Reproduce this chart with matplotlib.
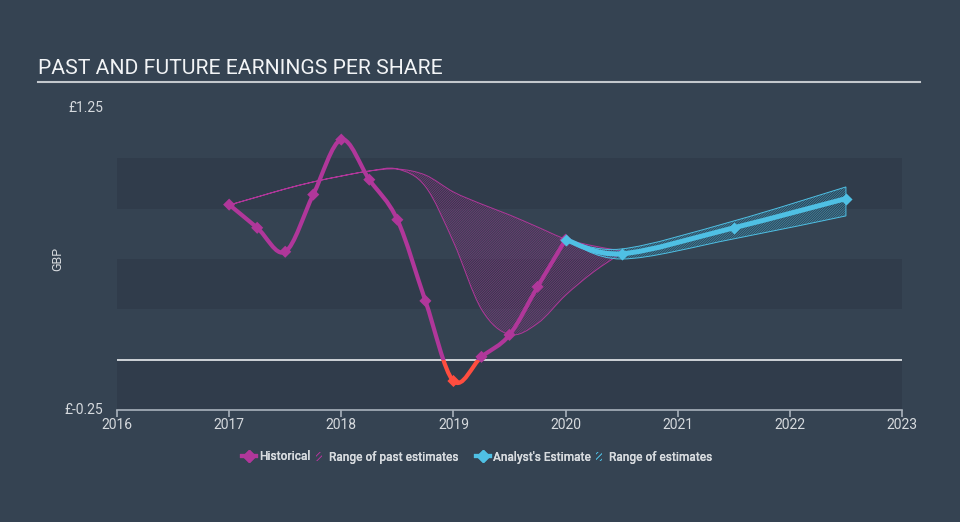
"""Past and future earnings per share chart."""

import matplotlib
matplotlib.use('Agg')
import matplotlib.pyplot as plt
from matplotlib.path import Path
from matplotlib.patches import PathPatch, Patch, Rectangle
from matplotlib.lines import Line2D
from matplotlib.legend_handler import HandlerPatch
import numpy as np

# datos
hist_years = [2017.0, 2017.25, 2017.5, 2017.75, 2018.0, 2018.25, 2018.5,
              2018.75, 2019.0, 2019.25, 2019.5, 2019.75, 2020.0]
hist_eps = [0.77, 0.655, 0.536, 0.82, 1.093, 0.894, 0.695,
            0.292, -0.106, 0.014, 0.123, 0.362, 0.596]

past_years = [2017.0, 2017.25, 2017.5, 2017.75, 2018.0, 2018.25, 2018.5,
              2018.75, 2019.0, 2019.25, 2019.5, 2019.75, 2020.0, 2020.25, 2020.5]
past_high = [0.768, 0.808, 0.848, 0.883, 0.912, 0.937, 0.947,
             0.917, 0.833, 0.773, 0.719, 0.659, 0.599, 0.565, 0.54]
past_low = [0.768, 0.808, 0.848, 0.883, 0.912, 0.937, 0.947,
            0.86, 0.585, 0.25, 0.125, 0.18, 0.32, 0.436, 0.53]

est_years = [2020.0, 2020.5, 2021.5, 2022.5]
est_eps = [0.596, 0.526, 0.655, 0.80]
est_high = [0.596, 0.55, 0.689, 0.858]
est_low = [0.596, 0.50, 0.60, 0.714]

x_ticks = [2016, 2017, 2018, 2019, 2020, 2021, 2022, 2023]

BG = '#354352'
BAND = '#303c4b'
PURPLE = '#b0379a'
PURPLE_H = '#7d3579'
RED = '#ff4d3f'
CYAN = '#4fc0e4'
CYAN_H = '#3a8fb0'
TXT = '#d6dade'
HATCH = '/' * 14


def smooth_verts(xs, ys):
    """Curva Catmull-Rom como vertices y codigos de bezier cubico."""
    pts = np.column_stack([xs, ys])
    n = len(pts)
    verts = [pts[0]]
    codes = [Path.MOVETO]
    for i in range(n - 1):
        p0 = pts[max(i - 1, 0)]
        p1 = pts[i]
        p2 = pts[i + 1]
        p3 = pts[min(i + 2, n - 1)]
        c1 = p1 + (p2 - p0) / 6
        c2 = p2 - (p3 - p1) / 6
        verts += [c1, c2, p2]
        codes += [Path.CURVE4] * 3
    return verts, codes


def band_path(xs, lo, hi):
    v1, c1 = smooth_verts(xs, hi)
    v2, c2 = smooth_verts(xs[::-1], lo[::-1])
    c2[0] = Path.LINETO
    verts = v1 + v2 + [v1[0]]
    codes = c1 + c2 + [Path.CLOSEPOLY]
    return Path(verts, codes)


def add_band(ax, path, line_color, hatch_color):
    ax.add_patch(PathPatch(path, facecolor='none', edgecolor=hatch_color,
                           hatch=HATCH, lw=0, zorder=2))
    ax.add_patch(PathPatch(path, facecolor='none', edgecolor=line_color,
                           lw=0.7, zorder=2))


def narrow_patch(legend, orig_handle, xdescent, ydescent, width, height,
                 fontsize):
    return Rectangle((width * 0.3 - xdescent, -ydescent), width * 0.4,
                     height)


plt.rcParams['font.family'] = ['Roboto', 'DejaVu Sans']
plt.rcParams['hatch.linewidth'] = 0.5

fig = plt.figure(figsize=(9.6, 5.22), dpi=100, facecolor=BG)
ax = fig.add_axes([117 / 960, 112 / 522, 785 / 960, 302 / 522])
ax.set_facecolor(BG)
ax.set_xlim(2016, 2023)
ax.set_ylim(-0.25, 1.25)

# bandas de fondo
for lo, hi in [(-0.25, 0.0), (0.25, 0.5), (0.75, 1.0)]:
    ax.axhspan(lo, hi, color=BAND, lw=0, zorder=0)
ax.axhline(0, color='#e8ecef', lw=1.2, zorder=1)

# rangos de estimaciones
add_band(ax, band_path(past_years, past_low, past_high), PURPLE, PURPLE_H)
add_band(ax, band_path(est_years, est_low, est_high), CYAN, CYAN_H)

# historico, rojo por debajo de cero
hv, hc = smooth_verts(hist_years, hist_eps)
hpath = Path(hv, hc)
for color, clip_y, clip_h in [(PURPLE, 0, 2), (RED, -1, 1)]:
    patch = PathPatch(hpath, facecolor='none', edgecolor=color, lw=3.0,
                      capstyle='round', joinstyle='round', zorder=3)
    ax.add_patch(patch)
    patch.set_clip_path(Rectangle((2015, clip_y), 9, clip_h,
                                  transform=ax.transData))
hist_colors = [RED if v < 0 else PURPLE for v in hist_eps]
ax.scatter(hist_years, hist_eps, marker='D', s=38, c=hist_colors,
           lw=0, zorder=4)

# estimacion de analistas
ev, ec = smooth_verts(est_years, est_eps)
ax.add_patch(PathPatch(Path(ev, ec), facecolor='none', edgecolor=CYAN,
                       lw=3.6, capstyle='round', zorder=3))
ax.scatter(est_years, est_eps, marker='D', s=38, c=CYAN, lw=0, zorder=4)

# ejes
for side in ['left', 'right', 'top']:
    ax.spines[side].set_visible(False)
ax.spines['bottom'].set_color('#a9b2bc')
ax.spines['bottom'].set_linewidth(1.2)
ax.set_xticks(x_ticks)
ax.set_xticklabels([str(t) for t in x_ticks])
ax.tick_params(axis='x', colors='#a9b2bc', labelcolor=TXT, length=5,
               width=1.2, labelsize=10, pad=1)
ax.set_yticks([])
ax.text(-0.018, 1.25, '£1.25', transform=ax.get_yaxis_transform(),
        ha='right', va='center', color=TXT, fontsize=10)
ax.text(-0.018, -0.25, '£-0.25', transform=ax.get_yaxis_transform(),
        ha='right', va='center', color=TXT, fontsize=10)
ax.set_ylabel('GBP', color=TXT, fontsize=9, labelpad=38)

# titulo
fig.text(38 / 960, 1 - 68 / 522, 'PAST AND FUTURE EARNINGS PER SHARE',
         color='#f2f4f6', fontsize=15.2, va='center', ha='left')
fig.add_artist(Line2D([38 / 960, 920 / 960], [1 - 82 / 522, 1 - 82 / 522],
                      color='#c3c8cd', lw=1.5))

# leyenda, en dos grupos
legend_groups = [
    (PURPLE, ['Historical', 'Range of past estimates'], 350),
    (CYAN, ["Analyst's Estimate", 'Range of estimates'], 594),
]
for color, labels, cx in legend_groups:
    handles = [
        Line2D([], [], color=color, lw=3, marker='D', markersize=6),
        Patch(facecolor='none', edgecolor=color, hatch='//////', lw=0),
    ]
    leg = fig.legend(handles, labels, loc='center', ncol=2,
                     bbox_to_anchor=(cx / 960, 1 - 457 / 522), frameon=False,
                     labelcolor=TXT, handlelength=1.2, handletextpad=0.25,
                     columnspacing=0.1, borderpad=0,
                     prop={'weight': 'medium', 'size': 8.6},
                     handler_map={Patch: HandlerPatch(patch_func=narrow_patch)})
    fig.add_artist(leg)

fig.savefig('out.png', dpi=100, facecolor=BG)
